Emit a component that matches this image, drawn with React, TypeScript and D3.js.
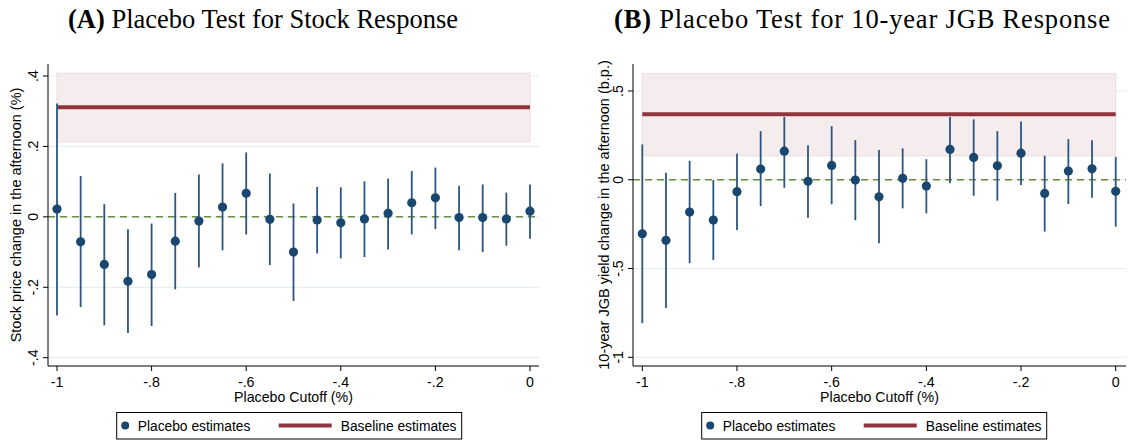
import React from "react";
import * as d3 from "d3";

const cutoffs = [-1, -0.95, -0.9, -0.85, -0.8, -0.75, -0.7, -0.65, -0.6, -0.55, -0.5, -0.45, -0.4, -0.35, -0.3, -0.25, -0.2, -0.15, -0.1, -0.05, 0];

const stockEst = [0.022, -0.071, -0.135, -0.183, -0.164, -0.069, -0.012, 0.028, 0.067, -0.007, -0.1, -0.009, -0.017, -0.006, 0.01, 0.04, 0.054, -0.002, -0.002, -0.006, 0.016];
const stockHi = [0.322, 0.116, 0.036, -0.035, -0.019, 0.068, 0.12, 0.152, 0.183, 0.123, 0.038, 0.085, 0.084, 0.101, 0.109, 0.13, 0.14, 0.088, 0.092, 0.069, 0.092];
const stockLo = [-0.28, -0.256, -0.308, -0.33, -0.31, -0.206, -0.144, -0.095, -0.05, -0.137, -0.239, -0.104, -0.118, -0.114, -0.093, -0.05, -0.035, -0.095, -0.1, -0.082, -0.062];

const jgbEst = [-0.304, -0.341, -0.182, -0.227, -0.067, 0.06, 0.161, -0.009, 0.081, -0.002, -0.096, 0.008, -0.035, 0.171, 0.126, 0.079, 0.15, -0.077, 0.049, 0.062, -0.065];
const jgbHi = [0.199, 0.039, 0.107, -0.002, 0.148, 0.274, 0.354, 0.195, 0.302, 0.223, 0.167, 0.177, 0.116, 0.354, 0.34, 0.274, 0.328, 0.135, 0.229, 0.223, 0.129];
const jgbLo = [-0.808, -0.723, -0.47, -0.452, -0.283, -0.148, -0.045, -0.214, -0.138, -0.228, -0.358, -0.161, -0.189, -0.02, -0.09, -0.118, -0.03, -0.292, -0.137, -0.101, -0.264];

const stockBaseline = [0.213, 0.311, 0.408]; // lo, estimate, hi
const jgbBaseline = [0.135, 0.369, 0.598];

const xTicks = [-1, -0.8, -0.6, -0.4, -0.2, 0];
const xTickLabels = ["-1", "-.8", "-.6", "-.4", "-.2", "0"];
const stockYTicks = [-0.4, -0.2, 0, 0.2, 0.4];
const stockYTickLabels = ["-.4", "-.2", "0", ".2", ".4"];
const jgbYTicks = [-1, -0.5, 0, 0.5];
const jgbYTickLabels = ["-1", "-.5", "0", ".5"];

const SANS = "'Liberation Sans', Arial, Helvetica, sans-serif";
const SERIF = "'Liberation Serif', 'Times New Roman', serif";

const NAVY = "#1a476f";
const CI = "#2c5681";
const RED = "#8f343c";
const FS = 14.2;

type PanelProps = {
  left: number;
  right: number;
  xRange: [number, number];
  yDomain: [number, number];
  yRange: [number, number];
  yTicks: number[];
  yTickLabels: string[];
  yTitle: string;
  yTitleX: number;
  yTickX: number;
  est: number[];
  lo: number[];
  hi: number[];
  base: number[];
  title: string;
  titleBold: string;
  titleX: number;
  titleW: number;
  legendX: [number, number];
};

function Panel(p: PanelProps) {
  const top = 64;
  const bottom = 366;
  const x = d3.scaleLinear().domain([-1, 0]).range(p.xRange);
  const y = d3.scaleLinear().domain(p.yDomain).range(p.yRange);
  const midX = (p.left + p.right) / 2;
  const midY = (top + bottom) / 2;
  const [lx0, lx1] = p.legendX;
  return (
    <g>
      <text
        x={p.titleX}
        y={28}
        fontFamily={SERIF}
        fontSize={26.5}
        fill="#000"
        textLength={p.titleW}
        lengthAdjust="spacing"
      >
        <tspan fontWeight="bold">{p.titleBold}</tspan>
        <tspan>{" " + p.title}</tspan>
      </text>
      {p.yTicks.map((t) => (
        <line key={"g" + t} x1={p.left} x2={p.right} y1={y(t)} y2={y(t)} stroke="#e7eef1" strokeWidth={1.2} />
      ))}
      <rect
        x={x(-1)}
        width={x(0) - x(-1)}
        y={y(p.base[2])}
        height={y(p.base[0]) - y(p.base[2])}
        fill="#f4eced"
        stroke="#eddcdd"
        strokeWidth={1}
        opacity={0.95}
      />
      <line x1={p.left} x2={p.right} y1={y(0)} y2={y(0)} stroke="#6b8e40" strokeWidth={1.5} strokeDasharray="7,5" />
      <line x1={x(-1)} x2={x(0)} y1={y(p.base[1])} y2={y(p.base[1])} stroke={RED} strokeWidth={4} />
      {cutoffs.map((c, i) => (
        <line key={"ci" + i} x1={x(c)} x2={x(c)} y1={y(p.lo[i])} y2={y(p.hi[i])} stroke={CI} strokeWidth={1.8} />
      ))}
      {cutoffs.map((c, i) => (
        <circle key={"pt" + i} cx={x(c)} cy={y(p.est[i])} r={4.6} fill={NAVY} />
      ))}
      <line x1={p.left} x2={p.left} y1={top} y2={bottom} stroke="#000" strokeWidth={1} />
      <line x1={p.left} x2={p.right} y1={bottom} y2={bottom} stroke="#000" strokeWidth={1} />
      {p.yTicks.map((t, i) => (
        <g key={"yt" + t}>
          <line x1={p.left - 5} x2={p.left} y1={y(t)} y2={y(t)} stroke="#000" />
          <text
            transform={`translate(${p.yTickX},${y(t)}) rotate(-90)`}
            textAnchor="middle"
            fontFamily={SANS}
            fontSize={FS}
            fill="#000"
          >
            {p.yTickLabels[i]}
          </text>
        </g>
      ))}
      {xTicks.map((t, i) => (
        <g key={"xt" + t}>
          <line x1={x(t)} x2={x(t)} y1={bottom} y2={bottom + 5} stroke="#000" />
          <text x={x(t)} y={387} textAnchor="middle" fontFamily={SANS} fontSize={FS} fill="#000">
            {xTickLabels[i]}
          </text>
        </g>
      ))}
      <text x={midX} y={402} textAnchor="middle" fontFamily={SANS} fontSize={FS} fill="#000">
        Placebo Cutoff (%)
      </text>
      <text
        transform={`translate(${p.yTitleX},${midY}) rotate(-90)`}
        textAnchor="middle"
        fontFamily={SANS}
        fontSize={14.5}
        fill="#000"
      >
        {p.yTitle}
      </text>
      <rect x={lx0} y={412.5} width={lx1 - lx0} height={26.5} fill="#fff" stroke="#000" strokeWidth={1} />
      <circle cx={lx0 + 8.5} cy={425.5} r={4} fill={NAVY} />
      <text x={lx0 + 21} y={430.5} fontFamily={SANS} fontSize={13.8} fill="#000">
        Placebo estimates
      </text>
      <line x1={lx0 + 162} x2={lx0 + 215} y1={425.5} y2={425.5} stroke={RED} strokeWidth={4} />
      <text x={lx0 + 224} y={430.5} fontFamily={SANS} fontSize={13.8} fill="#000">
        Baseline estimates
      </text>
    </g>
  );
}

export default function App() {
  return (
    <svg width={1128} height={440} style={{ position: "absolute", left: 0, top: 0, background: "#fff" }}>
      <rect width={1128} height={440} fill="#fff" />
      <Panel
        left={48}
        right={539}
        xRange={[57, 530]}
        yDomain={[-0.4, 0.4]}
        yRange={[357.7, 76]}
        yTicks={stockYTicks}
        yTickLabels={stockYTickLabels}
        yTitle="Stock price change in the afternoon (%)"
        yTitleX={21}
        yTickX={38}
        est={stockEst}
        lo={stockLo}
        hi={stockHi}
        base={stockBaseline}
        title="Placebo Test for Stock Response"
        titleBold="(A)"
        titleX={68}
        titleW={390}
        legendX={[116.7, 461.7]}
      />
      <Panel
        left={633}
        right={1126}
        xRange={[642.3, 1115.7]}
        yDomain={[-1, 0.5]}
        yRange={[357.3, 91]}
        yTicks={jgbYTicks}
        yTickLabels={jgbYTickLabels}
        yTitle="10-year JGB yield change in the afternoon (b.p.)"
        yTitleX={609}
        yTickX={623}
        est={jgbEst}
        lo={jgbLo}
        hi={jgbHi}
        base={jgbBaseline}
        title="Placebo Test for 10-year JGB Response"
        titleBold="(B)"
        titleX={614}
        titleW={496}
        legendX={[701.7, 1046.7]}
      />
    </svg>
  );
}
